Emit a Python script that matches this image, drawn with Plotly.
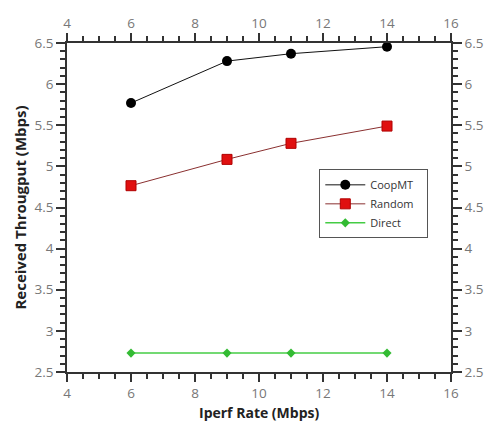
import plotly.graph_objects as go

# Throughput measured at each iperf offered rate
iperf_rate = [6, 9, 11, 14]
coopmt = [5.77, 6.28, 6.37, 6.455]
random_sel = [4.765, 5.085, 5.28, 5.49]
direct = [2.73, 2.73, 2.73, 2.73]

x_range = [4, 16]
y_range = [2.5, 6.5]

fig = go.Figure()

fig.add_trace(go.Scatter(
    x=iperf_rate, y=coopmt, name="CoopMT   ", mode="lines+markers",
    line=dict(color="#111111", width=1),
    marker=dict(symbol="circle", size=10, color="#000000"),
))
fig.add_trace(go.Scatter(
    x=iperf_rate, y=random_sel, name="Random", mode="lines+markers",
    line=dict(color="#8a3030", width=1),
    marker=dict(symbol="square", size=10, color="#e01010",
                line=dict(color="#b00000", width=1)),
))
fig.add_trace(go.Scatter(
    x=iperf_rate, y=direct, name="Direct", mode="lines+markers",
    line=dict(color="#44cc44", width=1.5),
    marker=dict(symbol="diamond", size=7, color="#33bb33"),
))
# invisible trace so the top/right axes get drawn
fig.add_trace(go.Scatter(
    x=x_range, y=y_range, xaxis="x2", yaxis="y2", mode="markers",
    marker=dict(opacity=0), showlegend=False, hoverinfo="skip",
))

font_family = "Open Sans, DejaVu Sans, sans-serif"
tick_font = dict(family=font_family, size=13.5, color="#777777")
title_font = dict(family=font_family, size=14, color="#222222")

common_x = dict(
    range=x_range, dtick=2, tick0=4, ticks="outside", ticklen=8, tickwidth=1.5,
    tickcolor="#333333", showline=True, linecolor="#333333", linewidth=1.5,
    showgrid=False, zeroline=False, tickfont=tick_font, automargin=False,
    minor=dict(dtick=0.5, ticks="outside", ticklen=5, tickcolor="#333333", showgrid=False),
)
common_y = dict(
    range=y_range, dtick=0.5, tick0=2.5, ticks="outside", ticklen=9, tickwidth=1.5,
    tickcolor="#333333", showline=True, linecolor="#333333", linewidth=1.5,
    showgrid=False, zeroline=False, tickfont=tick_font, automargin=False,
    minor=dict(dtick=0.1, ticks="outside", ticklen=5, tickcolor="#333333", showgrid=False),
)

fig.update_layout(
    width=492, height=421,
    margin=dict(l=67, r=41, t=43, b=49),
    paper_bgcolor="white", plot_bgcolor="white",
    xaxis=dict(**common_x),
    yaxis=dict(**common_y, title=dict(text="<b>Received Througput (Mbps)</b>", font=dict(family=font_family, size=15, color="#222222"), standoff=4)),
    xaxis2=dict(**common_x, overlaying="x", side="top", anchor="y"),
    yaxis2=dict(**common_y, overlaying="y", side="right", anchor="x"),
    legend=dict(
        x=0.657, y=0.616, xanchor="left", yanchor="top",
        bordercolor="#555555", borderwidth=1, bgcolor="white",
        font=dict(family=font_family, size=11, color="#333333"),
        itemwidth=40, tracegroupgap=0,
    ),
    showlegend=True,
    annotations=[dict(
        text="<b>Iperf Rate (Mbps)</b>", font=title_font,
        xref="paper", yref="paper", x=0.5, y=0, xanchor="center", yanchor="middle",
        yshift=-40, showarrow=False, borderpad=0,
    )],
)

fig.write_html("out.html")
